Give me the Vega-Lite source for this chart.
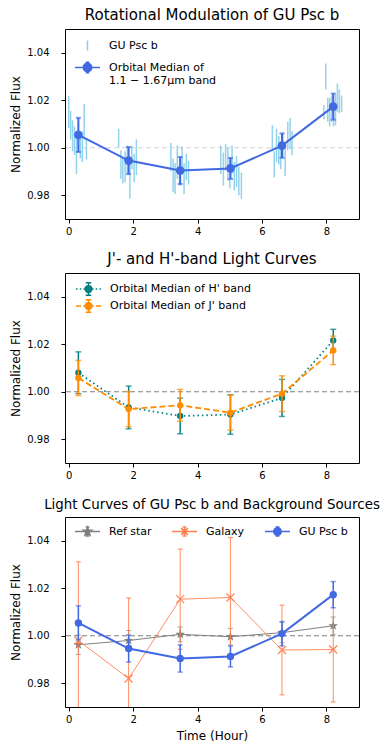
{
  "$schema": "https://vega.github.io/schema/vega-lite/v6.json",
  "background": "white",
  "padding": {"left": 9, "top": 7, "right": 5, "bottom": 5},
  "bounds": "flush",
  "spacing": 54,
  "config": {
    "font": "DejaVu Sans",
    "view": {"stroke": "black", "strokeWidth": 1},
    "axis": {"grid": false, "domain": false, "tickColor": "black", "tickSize": 4, "tickWidth": 1, "labelColor": "black", "labelFontSize": 10, "titleColor": "black", "titleFontSize": 12, "titleFontWeight": "normal"},
    "axisY": {"labelPadding": 12, "titlePadding": 4},
    "axisX": {"labelPadding": 3, "titlePadding": 6},
    "title": {"fontSize": 15, "fontWeight": "normal", "color": "black", "offset": 6},
    "legend": {"labelColor": "black", "labelFontSize": 11, "labelLimit": 400, "padding": 0, "labelOffset": 8, "symbolSize": 625, "symbolStrokeWidth": 1.5, "symbolOpacity": 1}
  },
  "resolve": {
    "scale": {"x": "independent", "y": "independent", "shape": "independent", "fill": "independent", "stroke": "independent", "color": "independent"},
    "legend": {"shape": "independent", "fill": "independent", "stroke": "independent", "color": "independent"}
  },
  "datasets": {
    "pts": [
      {"x": 0.00, "y": 1.0150, "e": 0.0068}, {"x": 0.06, "y": 1.0095, "e": 0.0060}, {"x": 0.12, "y": 1.0050, "e": 0.0065}, {"x": 0.18, "y": 1.0030, "e": 0.0060}, {"x": 0.24, "y": 0.9975, "e": 0.0085}, {"x": 0.30, "y": 1.0045, "e": 0.0060}, {"x": 0.36, "y": 1.0010, "e": 0.0055}, {"x": 0.42, "y": 1.0005, "e": 0.0065}, {"x": 0.48, "y": 1.0110, "e": 0.0075}, {"x": 0.55, "y": 0.9995, "e": 0.0045},
      {"x": 1.55, "y": 1.0040, "e": 0.0040}, {"x": 1.62, "y": 0.9930, "e": 0.0060}, {"x": 1.68, "y": 0.9905, "e": 0.0055}, {"x": 1.75, "y": 0.9920, "e": 0.0065}, {"x": 1.82, "y": 0.9950, "e": 0.0060}, {"x": 1.90, "y": 0.9860, "e": 0.0075}, {"x": 1.96, "y": 0.9960, "e": 0.0050}, {"x": 2.03, "y": 0.9915, "e": 0.0060}, {"x": 2.10, "y": 0.9960, "e": 0.0075},
      {"x": 3.17, "y": 0.9960, "e": 0.0060}, {"x": 3.24, "y": 0.9885, "e": 0.0070}, {"x": 3.30, "y": 0.9870, "e": 0.0065}, {"x": 3.37, "y": 0.9940, "e": 0.0070}, {"x": 3.44, "y": 0.9895, "e": 0.0055}, {"x": 3.52, "y": 0.9945, "e": 0.0060}, {"x": 3.58, "y": 0.9870, "e": 0.0065}, {"x": 3.65, "y": 0.9920, "e": 0.0055}, {"x": 3.72, "y": 0.9895, "e": 0.0050},
      {"x": 4.72, "y": 0.9950, "e": 0.0060}, {"x": 4.80, "y": 0.9910, "e": 0.0070}, {"x": 4.87, "y": 0.9960, "e": 0.0055}, {"x": 4.94, "y": 0.9930, "e": 0.0070}, {"x": 5.00, "y": 0.9890, "e": 0.0060}, {"x": 5.07, "y": 0.9950, "e": 0.0060}, {"x": 5.14, "y": 0.9880, "e": 0.0060}, {"x": 5.21, "y": 0.9900, "e": 0.0065}, {"x": 5.28, "y": 0.9860, "e": 0.0060}, {"x": 5.36, "y": 0.9840, "e": 0.0055},
      {"x": 6.32, "y": 1.0040, "e": 0.0055}, {"x": 6.38, "y": 0.9930, "e": 0.0055}, {"x": 6.45, "y": 1.0010, "e": 0.0070}, {"x": 6.52, "y": 0.9990, "e": 0.0060}, {"x": 6.58, "y": 0.9960, "e": 0.0050}, {"x": 6.65, "y": 1.0010, "e": 0.0055}, {"x": 6.72, "y": 0.9940, "e": 0.0060}, {"x": 6.80, "y": 1.0050, "e": 0.0060}, {"x": 6.87, "y": 1.0060, "e": 0.0065}, {"x": 6.93, "y": 1.0020, "e": 0.0050},
      {"x": 7.92, "y": 1.0150, "e": 0.0030}, {"x": 7.98, "y": 1.0300, "e": 0.0055}, {"x": 8.04, "y": 1.0160, "e": 0.0050}, {"x": 8.10, "y": 1.0150, "e": 0.0060}, {"x": 8.16, "y": 1.0165, "e": 0.0055}, {"x": 8.22, "y": 1.0140, "e": 0.0050}, {"x": 8.28, "y": 1.0160, "e": 0.0065}, {"x": 8.34, "y": 1.0210, "e": 0.0060}, {"x": 8.40, "y": 1.0195, "e": 0.0050}, {"x": 8.47, "y": 1.0185, "e": 0.0035}
    ],
    "med": [
      {"x": 0.30, "y": 1.0054, "e": 0.0072}, {"x": 1.86, "y": 0.9946, "e": 0.0057}, {"x": 3.46, "y": 0.9904, "e": 0.0057}, {"x": 5.02, "y": 0.9913, "e": 0.0044}, {"x": 6.62, "y": 1.0009, "e": 0.0051}, {"x": 8.21, "y": 1.0173, "e": 0.0055}
    ],
    "hband": [
      {"x": 0.30, "y": 1.0080, "e": 0.0088}, {"x": 1.86, "y": 0.9934, "e": 0.0090}, {"x": 3.46, "y": 0.9898, "e": 0.0075}, {"x": 5.02, "y": 0.9904, "e": 0.0083}, {"x": 6.62, "y": 0.9974, "e": 0.0078}, {"x": 8.21, "y": 1.0216, "e": 0.0047}
    ],
    "jband": [
      {"x": 0.30, "y": 1.0058, "e": 0.0074}, {"x": 1.86, "y": 0.9927, "e": 0.0074}, {"x": 3.46, "y": 0.9943, "e": 0.0067}, {"x": 5.02, "y": 0.9912, "e": 0.0074}, {"x": 6.62, "y": 0.9992, "e": 0.0075}, {"x": 8.21, "y": 1.0174, "e": 0.0060}
    ],
    "ref": [
      {"x": 0.30, "y": 0.9962, "e": 0.0041}, {"x": 1.86, "y": 0.9980, "e": 0.0042}, {"x": 3.46, "y": 1.0006, "e": 0.0031}, {"x": 5.02, "y": 0.9996, "e": 0.0035}, {"x": 6.62, "y": 1.0013, "e": 0.0043}, {"x": 8.21, "y": 1.0042, "e": 0.0037}
    ],
    "gal": [
      {"x": 0.30, "y": 0.9980, "e": 0.0331}, {"x": 1.86, "y": 0.9820, "e": 0.0339}, {"x": 3.46, "y": 1.0154, "e": 0.0211}, {"x": 5.02, "y": 1.0161, "e": 0.0252}, {"x": 6.62, "y": 0.9940, "e": 0.0189}, {"x": 8.21, "y": 0.9942, "e": 0.0221}
    ]
  },
  "vconcat": [
    {
      "width": 294, "height": 190,
      "title": {"text": "Rotational Modulation of GU Psc b"},
      "layer": [
        {"data": {"values": [{}]}, "mark": {"type": "rule", "color": "#d3d3d3", "strokeDash": [5, 3], "strokeWidth": 1.2},
         "encoding": {"y": {"datum": 1, "type": "quantitative", "scale": {"domain": [0.97, 1.05], "nice": false, "zero": false}, "axis": {"values": [0.98, 1.0, 1.02, 1.04], "format": ".2f", "title": "Normalized Flux"}}}},
        {"data": {"name": "pts"}, "mark": {"type": "errorbar", "color": "#87ceeb", "thickness": 1.5, "opacity": 0.9},
         "encoding": {
           "x": {"field": "x", "type": "quantitative", "scale": {"domain": [-0.115, 9.01], "nice": false, "zero": false}, "axis": {"values": [0, 2, 4, 6, 8], "title": null}},
           "y": {"field": "y", "type": "quantitative", "scale": {"domain": [0.97, 1.05], "nice": false, "zero": false}, "axis": {"values": [0.98, 1.0, 1.02, 1.04], "format": ".2f", "title": "Normalized Flux"}},
           "yError": {"field": "e"}}},
        {"data": {"name": "med"}, "mark": {"type": "line", "color": "#4169e1", "strokeWidth": 2},
         "encoding": {
           "x": {"field": "x", "type": "quantitative", "scale": {"domain": [-0.115, 9.01], "nice": false, "zero": false}, "axis": {"values": [0, 2, 4, 6, 8], "title": null}},
           "y": {"field": "y", "type": "quantitative", "scale": {"domain": [0.97, 1.05], "nice": false, "zero": false}, "axis": {"values": [0.98, 1.0, 1.02, 1.04], "format": ".2f", "title": "Normalized Flux"}}}},
        {"data": {"name": "med"}, "mark": {"type": "errorbar", "color": "#4169e1", "thickness": 2, "ticks": true, "size": 5},
         "encoding": {
           "x": {"field": "x", "type": "quantitative", "scale": {"domain": [-0.115, 9.01], "nice": false, "zero": false}, "axis": {"values": [0, 2, 4, 6, 8], "title": null}},
           "y": {"field": "y", "type": "quantitative", "scale": {"domain": [0.97, 1.05], "nice": false, "zero": false}, "axis": {"values": [0.98, 1.0, 1.02, 1.04], "format": ".2f", "title": "Normalized Flux"}},
           "yError": {"field": "e"}}},
        {"data": {"name": "med"}, "mark": {"type": "circle", "color": "#4169e1", "size": 75, "opacity": 1},
         "encoding": {
           "x": {"field": "x", "type": "quantitative", "scale": {"domain": [-0.115, 9.01], "nice": false, "zero": false}, "axis": {"values": [0, 2, 4, 6, 8], "title": null}},
           "y": {"field": "y", "type": "quantitative", "scale": {"domain": [0.97, 1.05], "nice": false, "zero": false}, "axis": {"values": [0.98, 1.0, 1.02, 1.04], "format": ".2f", "title": "Normalized Flux"}}}},
        {"data": {"name": "med"}, "transform": [{"filter": "false"}], "mark": {"type": "point", "filled": true},
         "encoding": {
           "shape": {"field": "s", "type": "nominal", "scale": {"domain": ["GU Psc b", "Orbital Median of|1.1 − 1.67μm band"], "range": ["M0,-0.4L0,0.4", "M-1,0L1,0M0,-0.42L0,0.42M-0.14,-0.42L0.14,-0.42M-0.14,0.42L0.14,0.42M-0.34,0A0.34,0.34 0 1,0 0.34,0A0.34,0.34 0 1,0 -0.34,0Z"]},
             "legend": {"title": null, "orient": "none", "legendX": 9, "legendY": 3, "rowPadding": 0, "labelExpr": "split(datum.label, '|')"}},
           "fill": {"field": "s", "type": "nominal", "scale": {"domain": ["GU Psc b", "Orbital Median of|1.1 − 1.67μm band"], "range": ["#87ceeb", "#4169e1"]},
             "legend": {"title": null, "orient": "none", "legendX": 9, "legendY": 3, "rowPadding": 0, "labelExpr": "split(datum.label, '|')"}},
           "stroke": {"field": "s", "type": "nominal", "scale": {"domain": ["GU Psc b", "Orbital Median of|1.1 − 1.67μm band"], "range": ["#87ceeb", "#4169e1"]},
             "legend": {"title": null, "orient": "none", "legendX": 9, "legendY": 3, "rowPadding": 0, "labelExpr": "split(datum.label, '|')"}}
         }}
      ]
    },
    {
      "width": 294, "height": 190,
      "title": {"text": "J'- and H'-band Light Curves"},
      "layer": [
        {"data": {"values": [{}]}, "mark": {"type": "rule", "color": "#808080", "strokeDash": [5, 3], "strokeWidth": 1.2},
         "encoding": {"y": {"datum": 1, "type": "quantitative", "scale": {"domain": [0.97, 1.05], "nice": false, "zero": false}, "axis": {"values": [0.98, 1.0, 1.02, 1.04], "format": ".2f", "title": "Normalized Flux"}}}},
        {"data": {"name": "hband"}, "mark": {"type": "line", "color": "#008080", "strokeWidth": 1.8, "strokeDash": [1.5, 3]},
         "encoding": {
           "x": {"field": "x", "type": "quantitative", "scale": {"domain": [-0.115, 9.01], "nice": false, "zero": false}, "axis": {"values": [0, 2, 4, 6, 8], "title": null}},
           "y": {"field": "y", "type": "quantitative", "scale": {"domain": [0.97, 1.05], "nice": false, "zero": false}, "axis": {"values": [0.98, 1.0, 1.02, 1.04], "format": ".2f", "title": "Normalized Flux"}}}},
        {"data": {"name": "hband"}, "mark": {"type": "errorbar", "color": "#008080", "thickness": 1.5, "ticks": true, "size": 6},
         "encoding": {
           "x": {"field": "x", "type": "quantitative", "scale": {"domain": [-0.115, 9.01], "nice": false, "zero": false}, "axis": {"values": [0, 2, 4, 6, 8], "title": null}},
           "y": {"field": "y", "type": "quantitative", "scale": {"domain": [0.97, 1.05], "nice": false, "zero": false}, "axis": {"values": [0.98, 1.0, 1.02, 1.04], "format": ".2f", "title": "Normalized Flux"}},
           "yError": {"field": "e"}}},
        {"data": {"name": "hband"}, "mark": {"type": "circle", "color": "#008080", "size": 40, "opacity": 1},
         "encoding": {
           "x": {"field": "x", "type": "quantitative", "scale": {"domain": [-0.115, 9.01], "nice": false, "zero": false}, "axis": {"values": [0, 2, 4, 6, 8], "title": null}},
           "y": {"field": "y", "type": "quantitative", "scale": {"domain": [0.97, 1.05], "nice": false, "zero": false}, "axis": {"values": [0.98, 1.0, 1.02, 1.04], "format": ".2f", "title": "Normalized Flux"}}}},
        {"data": {"name": "jband"}, "mark": {"type": "line", "color": "#ff8c00", "strokeWidth": 1.8, "strokeDash": [6, 3]},
         "encoding": {
           "x": {"field": "x", "type": "quantitative", "scale": {"domain": [-0.115, 9.01], "nice": false, "zero": false}, "axis": {"values": [0, 2, 4, 6, 8], "title": null}},
           "y": {"field": "y", "type": "quantitative", "scale": {"domain": [0.97, 1.05], "nice": false, "zero": false}, "axis": {"values": [0.98, 1.0, 1.02, 1.04], "format": ".2f", "title": "Normalized Flux"}}}},
        {"data": {"name": "jband"}, "mark": {"type": "errorbar", "color": "#ff8c00", "thickness": 1.5, "ticks": true, "size": 6},
         "encoding": {
           "x": {"field": "x", "type": "quantitative", "scale": {"domain": [-0.115, 9.01], "nice": false, "zero": false}, "axis": {"values": [0, 2, 4, 6, 8], "title": null}},
           "y": {"field": "y", "type": "quantitative", "scale": {"domain": [0.97, 1.05], "nice": false, "zero": false}, "axis": {"values": [0.98, 1.0, 1.02, 1.04], "format": ".2f", "title": "Normalized Flux"}},
           "yError": {"field": "e"}}},
        {"data": {"name": "jband"}, "mark": {"type": "circle", "color": "#ff8c00", "size": 40, "opacity": 1},
         "encoding": {
           "x": {"field": "x", "type": "quantitative", "scale": {"domain": [-0.115, 9.01], "nice": false, "zero": false}, "axis": {"values": [0, 2, 4, 6, 8], "title": null}},
           "y": {"field": "y", "type": "quantitative", "scale": {"domain": [0.97, 1.05], "nice": false, "zero": false}, "axis": {"values": [0.98, 1.0, 1.02, 1.04], "format": ".2f", "title": "Normalized Flux"}}}},
        {"data": {"name": "med"}, "transform": [{"filter": "false"}], "mark": {"type": "point", "filled": true},
         "encoding": {
           "shape": {"field": "s", "type": "nominal", "scale": {"domain": ["Orbital Median of H' band", "Orbital Median of J' band"], "range": ["M-2.083,0L-1.833,0M-1.458,0L-1.208,0M-0.833,0L-0.583,0M0.583,0L0.833,0M1.208,0L1.458,0M1.833,0L2.083,0M0,-1.042L0,1.042M-0.458,-1.042L0.458,-1.042M-0.458,1.042L0.458,1.042M-0.5625,0A0.5625,0.5625 0 1,0 0.5625,0A0.5625,0.5625 0 1,0 -0.5625,0Z", "M-2.083,0L-1.25,0M-0.875,0L0.875,0M1.25,0L2.083,0M0,-1.042L0,1.042M-0.458,-1.042L0.458,-1.042M-0.458,1.042L0.458,1.042M-0.5625,0A0.5625,0.5625 0 1,0 0.5625,0A0.5625,0.5625 0 1,0 -0.5625,0Z"]},
             "legend": {"title": null, "orient": "none", "legendX": 16.5, "legendY": 9, "rowPadding": -3, "symbolSize": 144, "labelOffset": 14.5}},
           "fill": {"field": "s", "type": "nominal", "scale": {"domain": ["Orbital Median of H' band", "Orbital Median of J' band"], "range": ["#008080", "#ff8c00"]},
             "legend": {"title": null, "orient": "none", "legendX": 16.5, "legendY": 9, "rowPadding": -3, "symbolSize": 144, "labelOffset": 14.5}},
           "stroke": {"field": "s", "type": "nominal", "scale": {"domain": ["Orbital Median of H' band", "Orbital Median of J' band"], "range": ["#008080", "#ff8c00"]},
             "legend": {"title": null, "orient": "none", "legendX": 16.5, "legendY": 9, "rowPadding": -3, "symbolSize": 144, "labelOffset": 14.5}}
         }}
      ]
    },
    {
      "width": 294, "height": 190,
      "title": {"text": "Light Curves of GU Psc b and Background Sources", "fontSize": 13.4},
      "layer": [
        {"data": {"values": [{}]}, "mark": {"type": "rule", "color": "#808080", "strokeDash": [5, 3], "strokeWidth": 1.2},
         "encoding": {"y": {"datum": 1, "type": "quantitative", "scale": {"domain": [0.97, 1.05], "nice": false, "zero": false}, "axis": {"values": [0.98, 1.0, 1.02, 1.04], "format": ".2f", "title": "Normalized Flux"}}}},
        {"data": {"name": "ref"}, "mark": {"type": "line", "color": "#808080", "strokeWidth": 1},
         "encoding": {
           "x": {"field": "x", "type": "quantitative", "scale": {"domain": [-0.115, 9.01], "nice": false, "zero": false}, "axis": {"values": [0, 2, 4, 6, 8], "title": "Time (Hour)"}},
           "y": {"field": "y", "type": "quantitative", "scale": {"domain": [0.97, 1.05], "nice": false, "zero": false}, "axis": {"values": [0.98, 1.0, 1.02, 1.04], "format": ".2f", "title": "Normalized Flux"}}}},
        {"data": {"name": "ref"}, "mark": {"type": "errorbar", "color": "#808080", "thickness": 1, "ticks": true, "size": 5},
         "encoding": {
           "x": {"field": "x", "type": "quantitative", "scale": {"domain": [-0.115, 9.01], "nice": false, "zero": false}, "axis": {"values": [0, 2, 4, 6, 8], "title": "Time (Hour)"}},
           "y": {"field": "y", "type": "quantitative", "scale": {"domain": [0.97, 1.05], "nice": false, "zero": false}, "axis": {"values": [0.98, 1.0, 1.02, 1.04], "format": ".2f", "title": "Normalized Flux"}},
           "yError": {"field": "e"}}},
        {"data": {"name": "ref"}, "mark": {"type": "point", "filled": true, "color": "#808080", "opacity": 1, "size": 100, "shape": "M0,-1L0.235,-0.324L0.951,-0.309L0.38,0.124L0.588,0.809L0,0.4L-0.588,0.809L-0.38,0.124L-0.951,-0.309L-0.235,-0.324Z"},
         "encoding": {
           "x": {"field": "x", "type": "quantitative", "scale": {"domain": [-0.115, 9.01], "nice": false, "zero": false}, "axis": {"values": [0, 2, 4, 6, 8], "title": "Time (Hour)"}},
           "y": {"field": "y", "type": "quantitative", "scale": {"domain": [0.97, 1.05], "nice": false, "zero": false}, "axis": {"values": [0.98, 1.0, 1.02, 1.04], "format": ".2f", "title": "Normalized Flux"}}}},
        {"data": {"name": "gal"}, "mark": {"type": "line", "color": "#ff7f50", "strokeWidth": 1, "opacity": 0.9},
         "encoding": {
           "x": {"field": "x", "type": "quantitative", "scale": {"domain": [-0.115, 9.01], "nice": false, "zero": false}, "axis": {"values": [0, 2, 4, 6, 8], "title": "Time (Hour)"}},
           "y": {"field": "y", "type": "quantitative", "scale": {"domain": [0.97, 1.05], "nice": false, "zero": false}, "axis": {"values": [0.98, 1.0, 1.02, 1.04], "format": ".2f", "title": "Normalized Flux"}}}},
        {"data": {"name": "gal"}, "mark": {"type": "errorbar", "color": "#ff7f50", "thickness": 1, "ticks": true, "size": 5, "clip": true, "opacity": 0.9},
         "encoding": {
           "x": {"field": "x", "type": "quantitative", "scale": {"domain": [-0.115, 9.01], "nice": false, "zero": false}, "axis": {"values": [0, 2, 4, 6, 8], "title": "Time (Hour)"}},
           "y": {"field": "y", "type": "quantitative", "scale": {"domain": [0.97, 1.05], "nice": false, "zero": false}, "axis": {"values": [0.98, 1.0, 1.02, 1.04], "format": ".2f", "title": "Normalized Flux"}},
           "yError": {"field": "e"}}},
        {"data": {"name": "gal"}, "mark": {"type": "point", "filled": false, "color": "#ff7f50", "opacity": 0.95, "strokeWidth": 1.2, "size": 64, "shape": "M-1,-1L1,1M-1,1L1,-1"},
         "encoding": {
           "x": {"field": "x", "type": "quantitative", "scale": {"domain": [-0.115, 9.01], "nice": false, "zero": false}, "axis": {"values": [0, 2, 4, 6, 8], "title": "Time (Hour)"}},
           "y": {"field": "y", "type": "quantitative", "scale": {"domain": [0.97, 1.05], "nice": false, "zero": false}, "axis": {"values": [0.98, 1.0, 1.02, 1.04], "format": ".2f", "title": "Normalized Flux"}}}},
        {"data": {"name": "med"}, "mark": {"type": "line", "color": "#4169e1", "strokeWidth": 2},
         "encoding": {
           "x": {"field": "x", "type": "quantitative", "scale": {"domain": [-0.115, 9.01], "nice": false, "zero": false}, "axis": {"values": [0, 2, 4, 6, 8], "title": "Time (Hour)"}},
           "y": {"field": "y", "type": "quantitative", "scale": {"domain": [0.97, 1.05], "nice": false, "zero": false}, "axis": {"values": [0.98, 1.0, 1.02, 1.04], "format": ".2f", "title": "Normalized Flux"}}}},
        {"data": {"name": "med"}, "mark": {"type": "errorbar", "color": "#4169e1", "thickness": 1.5, "ticks": true, "size": 5},
         "encoding": {
           "x": {"field": "x", "type": "quantitative", "scale": {"domain": [-0.115, 9.01], "nice": false, "zero": false}, "axis": {"values": [0, 2, 4, 6, 8], "title": "Time (Hour)"}},
           "y": {"field": "y", "type": "quantitative", "scale": {"domain": [0.97, 1.05], "nice": false, "zero": false}, "axis": {"values": [0.98, 1.0, 1.02, 1.04], "format": ".2f", "title": "Normalized Flux"}},
           "yError": {"field": "e"}}},
        {"data": {"name": "med"}, "mark": {"type": "circle", "color": "#4169e1", "size": 55, "opacity": 1},
         "encoding": {
           "x": {"field": "x", "type": "quantitative", "scale": {"domain": [-0.115, 9.01], "nice": false, "zero": false}, "axis": {"values": [0, 2, 4, 6, 8], "title": "Time (Hour)"}},
           "y": {"field": "y", "type": "quantitative", "scale": {"domain": [0.97, 1.05], "nice": false, "zero": false}, "axis": {"values": [0.98, 1.0, 1.02, 1.04], "format": ".2f", "title": "Normalized Flux"}}}},
        {"data": {"name": "med"}, "transform": [{"filter": "false"}], "mark": {"type": "point", "filled": true},
         "encoding": {
           "shape": {"field": "s", "type": "nominal", "scale": {"domain": ["Ref star", "Galaxy", "GU Psc b"], "range": ["M-1,0L1,0M0,-0.36L0,0.36M-0.15,-0.36L0.15,-0.36M-0.15,0.36L0.15,0.36M0,-0.34L0.082,-0.113L0.323,-0.105L0.133,0.043L0.2,0.275L0,0.14L-0.2,0.275L-0.133,0.043L-0.323,-0.105L-0.082,-0.113Z", "M-1,0L1,0M0,-0.36L0,0.36M-0.15,-0.36L0.15,-0.36M-0.15,0.36L0.15,0.36M-0.27,-0.27L0.27,0.27M-0.27,0.27L0.27,-0.27", "M-1,0L1,0M0,-0.36L0,0.36M-0.15,-0.36L0.15,-0.36M-0.15,0.36L0.15,0.36M-0.3,0A0.3,0.3 0 1,0 0.3,0A0.3,0.3 0 1,0 -0.3,0Z"]},
             "legend": {"title": null, "orient": "none", "legendX": 9, "legendY": 1, "direction": "horizontal", "columns": 3, "columnPadding": 17}},
           "fill": {"field": "s", "type": "nominal", "scale": {"domain": ["Ref star", "Galaxy", "GU Psc b"], "range": ["#808080", "#ff7f50", "#4169e1"]},
             "legend": {"title": null, "orient": "none", "legendX": 9, "legendY": 1, "direction": "horizontal", "columns": 3, "columnPadding": 17}},
           "stroke": {"field": "s", "type": "nominal", "scale": {"domain": ["Ref star", "Galaxy", "GU Psc b"], "range": ["#808080", "#ff7f50", "#4169e1"]},
             "legend": {"title": null, "orient": "none", "legendX": 9, "legendY": 1, "direction": "horizontal", "columns": 3, "columnPadding": 17}}
         }}
      ]
    }
  ]
}
